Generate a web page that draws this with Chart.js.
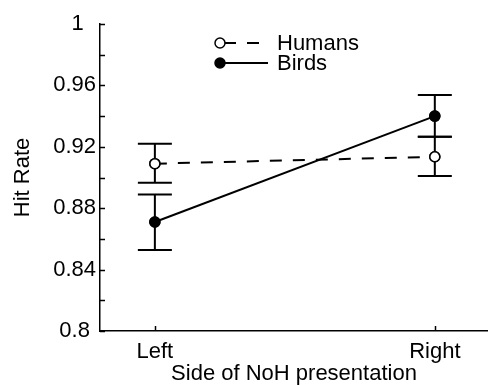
<!DOCTYPE html>
<html>
<head>
<meta charset="utf-8">
<script src="https://cdn.jsdelivr.net/npm/chart.js@4"></script>
<style>
  html, body { margin: 0; padding: 0; background: #fff; overflow: hidden; }
  #wrap { width: 488px; height: 385px; }
</style>
</head>
<body>
<div id="wrap"><canvas id="hitChart"></canvas></div>
<script>
// categories (x positions 1 and 2)
const sides = ['Left', 'Right'];
const xPos = [1, 2];

// mean hit rate and error bar ends
const humansMean = [0.909, 0.9135];
const humansLow = [0.8965, 0.901];
const humansHigh = [0.922, 0.9265];
const birdsMean = [0.871, 0.940];
const birdsLow = [0.8528, 0.9265];
const birdsHigh = [0.889, 0.9537];

// labelled y ticks (trailing spaces mimic the original label widths)
const yLabels = { '0.8': '0.8 ', '0.84': '0.84', '0.88': '0.88', '0.92': '0.92', '0.96': '0.96', '1': '1  ' };

const FONT = 'Liberation Sans, Arial, sans-serif';

// error bars, inward tick marks and the legend
const extras = {
    id: 'extras',
    afterDatasetsDraw(chart) {
        const ctx = chart.ctx;
        const xs = chart.scales.x;
        const ys = chart.scales.y;
        const area = chart.chartArea;
        ctx.save();
        ctx.strokeStyle = '#000';
        ctx.lineWidth = 2;
        ctx.setLineDash([]);

        // error bars
        const bars = [[humansLow, humansHigh], [birdsLow, birdsHigh]];
        bars.forEach(([lo, hi]) => {
            xPos.forEach((xv, i) => {
                const px = xs.getPixelForValue(xv);
                const yl = ys.getPixelForValue(lo[i]);
                const yh = ys.getPixelForValue(hi[i]);
                ctx.beginPath();
                ctx.moveTo(px, yl); ctx.lineTo(px, yh);
                ctx.moveTo(px - 17, yl); ctx.lineTo(px + 17, yl);
                ctx.moveTo(px - 17, yh); ctx.lineTo(px + 17, yh);
                ctx.stroke();
            });
        });

        // redraw markers on top of error bars
        chart.getDatasetMeta(0).data.forEach(p => p.draw(ctx, area));
        chart.getDatasetMeta(1).data.forEach(p => p.draw(ctx, area));

        // ticks pointing inward
        ctx.lineWidth = 1.5;
        ctx.beginPath();
        ys.ticks.forEach(t => {
            const py = Math.round(ys.getPixelForValue(t.value)) + 0.5;
            ctx.moveTo(area.left, py); ctx.lineTo(area.left + 5, py);
        });
        xPos.forEach(xv => {
            const px = Math.round(xs.getPixelForValue(xv)) + 0.5;
            ctx.moveTo(px, area.bottom); ctx.lineTo(px, area.bottom - 5);
        });
        ctx.stroke();

        // legend
        const items = [
            { label: 'Humans', ds: chart.data.datasets[0], y: 43 },
            { label: 'Birds', ds: chart.data.datasets[1], y: 63 }
        ];
        ctx.font = '22px ' + FONT;
        ctx.textBaseline = 'middle';
        ctx.fillStyle = '#000';
        items.forEach(it => {
            ctx.lineWidth = 2;
            ctx.setLineDash(it.ds.borderDash || []);
            ctx.beginPath();
            ctx.moveTo(224, it.y); ctx.lineTo(268, it.y);
            ctx.stroke();
            ctx.setLineDash([]);
            ctx.beginPath();
            ctx.arc(220, it.y, 5, 0, Math.PI * 2);
            ctx.fillStyle = it.ds.pointBackgroundColor;
            ctx.fill();
            ctx.lineWidth = 1.5;
            ctx.stroke();
            ctx.fillStyle = '#000';
            ctx.fillText(it.label, 277, it.y + 1);
        });
        ctx.restore();
    }
};

new Chart(document.getElementById('hitChart'), {
    type: 'line',
    data: {
        datasets: [{
            label: 'Humans',
            data: xPos.map((x, i) => ({ x: x, y: humansMean[i] })),
            borderColor: '#000',
            borderWidth: 2,
            borderDash: [12, 11],
            pointRadius: 5,
            pointBorderWidth: 1.5,
            pointBackgroundColor: '#fff',
            pointBorderColor: '#000'
        }, {
            label: 'Birds',
            data: xPos.map((x, i) => ({ x: x, y: birdsMean[i] })),
            borderColor: '#000',
            borderWidth: 2,
            pointRadius: 5,
            pointBorderWidth: 1.5,
            pointBackgroundColor: '#000',
            pointBorderColor: '#000'
        }]
    },
    options: {
        responsive: true,
        maintainAspectRatio: false,
        animation: false,
        layout: { autoPadding: false, padding: { top: 24, right: 0, bottom: 0, left: 0 } },
        plugins: {
            legend: { display: false },
            tooltip: { enabled: false }
        },
        scales: {
            x: {
                type: 'linear',
                min: 0.804,
                max: 2.19,
                afterFit: s => { s.height = 54; },
                afterBuildTicks: s => { s.ticks = xPos.map(v => ({ value: v })); },
                ticks: {
                    color: '#000',
                    font: { family: FONT, size: 22 },
                    padding: 8,
                    callback: v => sides[xPos.indexOf(v)] || ''
                },
                grid: { display: false, drawTicks: false },
                border: { display: true, color: '#000', width: 1.5 },
                title: {
                    display: true,
                    text: 'Side of NoH presentation',
                    color: '#000',
                    font: { family: FONT, size: 22 },
                    padding: { top: 0, bottom: -2 }
                }
            },
            y: {
                min: 0.8,
                max: 1,
                afterFit: s => { s.width = 100; },
                ticks: {
                    stepSize: 0.02,
                    color: '#000',
                    font: { family: FONT, size: 22 },
                    padding: 4,
                    callback: v => yLabels[String(Math.round(v * 100) / 100)] || ''
                },
                grid: { display: false, drawTicks: false },
                border: { display: true, color: '#000', width: 1.5 },
                title: {
                    display: true,
                    text: 'Hit Rate',
                    color: '#000',
                    font: { family: FONT, size: 22 },
                    padding: { top: 10, bottom: 0 }
                }
            }
        }
    },
    plugins: [extras]
});
</script>
</body>
</html>
